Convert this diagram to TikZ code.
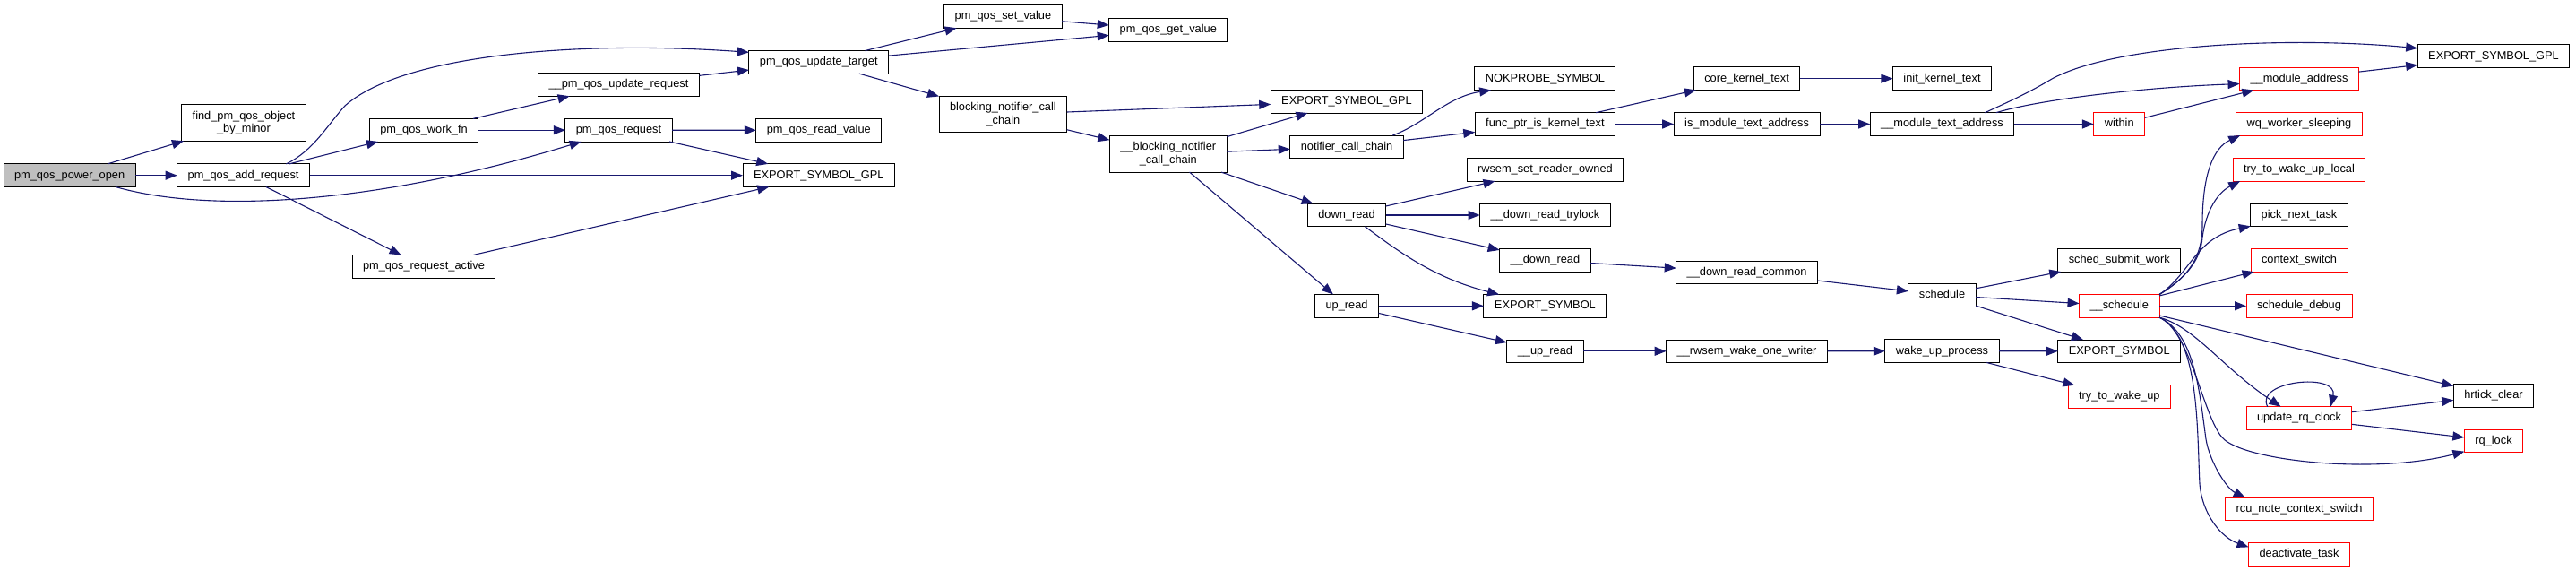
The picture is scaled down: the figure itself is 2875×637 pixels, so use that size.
\documentclass[tikz,border=0pt]{standalone}
\usepackage{fontspec}
\setmainfont{Liberation Sans}
\usetikzlibrary{arrows.meta,calc,positioning}
\definecolor{edgeblue}{HTML}{191970}
\definecolor{linkred}{HTML}{FF0000}
\definecolor{rootgray}{HTML}{BFBFBF}

\begin{document}
\begin{tikzpicture}[x=1pt,y=-1pt,>={Triangle[length=13pt,width=10pt]},
  box/.style={draw=black,line width=1pt,fill=white,inner xsep=12pt,inner ysep=0pt,outer sep=0pt,font=\fontsize{12.8}{14.5}\selectfont},
  fn/.style={box,minimum height=25.6pt,text height=9.4pt,text depth=2.8pt},
  fn2/.style={box,align=center,minimum height=40.5pt},
  redfn/.style={fn,draw=linkred},
  root/.style={fn,fill=rootgray},
  call/.style={->,edgeblue,line width=1.1pt}]
  \useasboundingbox (0,0) rectangle (2875,637);

  \node[root] (pwropen) at (77.6,195.7) {pm\_qos\_power\_open};
  \node[fn2] (findobj) at (272,137) {find\_pm\_qos\_object\\\_by\_minor};
  \node[fn] (addreq) at (271.6,195.7) {pm\_qos\_add\_request};
  \node[fn] (workfn) at (473,145.2) {pm\_qos\_work\_fn};
  \node[fn] (reqactive) at (473,297.2) {pm\_qos\_request\_active};
  \node[fn] (updreq) at (690.5,94.5) {\_\_pm\_qos\_update\_request};
  \node[fn] (qosreq) at (690.5,145.2) {pm\_qos\_request};
  \node[fn] (updtarget) at (913.8,69.3) {pm\_qos\_update\_target};
  \node[fn] (readval) at (913.8,145.3) {pm\_qos\_read\_value};
  \node[fn] (gplA) at (913.8,195.7) {EXPORT\_SYMBOL\_GPL};
  \node[fn] (setval) at (1119.4,18.5) {pm\_qos\_set\_value};
  \node[fn2] (blkcall) at (1119.4,127.7) {blocking\_notifier\_call\\\_chain};
  \node[fn] (getval) at (1303.8,33.3) {pm\_qos\_get\_value};
  \node[fn2] (blkcallx) at (1303.8,171.8) {\_\_blocking\_notifier\\\_call\_chain};
  \node[fn] (gplB) at (1503,113.2) {EXPORT\_SYMBOL\_GPL};
  \node[fn] (notifcall) at (1503,163.8) {notifier\_call\_chain};
  \node[fn] (downrd) at (1503,240) {down\_read};
  \node[fn] (uprd) at (1503,341.3) {up\_read};
  \node[fn] (nokprobe) at (1724.4,87.7) {NOKPROBE\_SYMBOL};
  \node[fn] (funcptr) at (1724.4,138.5) {func\_ptr\_is\_kernel\_text};
  \node[fn] (rwsemset) at (1724.4,189.3) {rwsem\_set\_reader\_owned};
  \node[fn] (trylock) at (1724.4,240) {\_\_down\_read\_trylock};
  \node[fn] (downrdx) at (1724.4,290.5) {\_\_down\_read};
  \node[fn] (symA) at (1724.4,341.3) {EXPORT\_SYMBOL};
  \node[fn] (uprdx) at (1724.4,391.8) {\_\_up\_read};
  \node[fn] (corekt) at (1949.6,87.7) {core\_kernel\_text};
  \node[fn] (ismodta) at (1949.6,138.5) {is\_module\_text\_address};
  \node[fn] (downcommon) at (1949.6,303.8) {\_\_down\_read\_common};
  \node[fn] (wakewriter) at (1949.6,391.8) {\_\_rwsem\_wake\_one\_writer};
  \node[fn] (initkt) at (2167.5,87.7) {init\_kernel\_text};
  \node[fn] (modtaddr) at (2167.5,138.5) {\_\_module\_text\_address};
  \node[fn] (sched) at (2167.5,329.2) {schedule};
  \node[fn] (wakeproc) at (2167.5,391.7) {wake\_up\_process};
  \node[redfn] (within) at (2365.3,138.5) {within};
  \node[fn] (submitwork) at (2365.3,290.3) {sched\_submit\_work};
  \node[redfn] (schedx) at (2365.3,341.3) {\_\_schedule};
  \node[fn] (symB) at (2365.3,391.8) {EXPORT\_SYMBOL};
  \node[redfn] (trywake) at (2365.3,442.5) {try\_to\_wake\_up};
  \node[redfn] (modaddr) at (2566,87.8) {\_\_module\_address};
  \node[redfn] (wqsleep) at (2566,138.3) {wq\_worker\_sleeping};
  \node[redfn] (trywakelocal) at (2566,189.2) {try\_to\_wake\_up\_local};
  \node[fn] (picknext) at (2566,239.8) {pick\_next\_task};
  \node[redfn] (ctxswitch) at (2566,290.3) {context\_switch};
  \node[redfn] (scheddebug) at (2566,341.3) {schedule\_debug};
  \node[redfn] (updclock) at (2566,466.5) {update\_rq\_clock};
  \node[redfn] (rcunote) at (2566,567.8) {rcu\_note\_context\_switch};
  \node[redfn] (deact) at (2566,618.3) {deactivate\_task};
  \node[fn] (gplC) at (2783,62.7) {EXPORT\_SYMBOL\_GPL};
  \node[fn] (hrtick) at (2783,441.2) {hrtick\_clear};
  \node[redfn] (rqlock) at (2783,491.8) {rq\_lock};

  \draw[call] (pwropen) -- (findobj);
  \draw[call] (pwropen) -- (addreq);
  \draw[call] (pwropen.-14) .. controls (240,240) and (430,225) .. (qosreq.197);
  \draw[call] (addreq) -- (workfn);
  \draw[call] (addreq) -- (gplA);
  \draw[call] (addreq) -- (reqactive);
  \draw[call] (addreq.15) .. controls (350,168) and (365,140) .. (385,118)
    .. controls (450,60) and (650,45) .. (updtarget.172);
  \draw[call] (workfn) -- (updreq);
  \draw[call] (workfn) -- (qosreq);
  \draw[call] (updreq) -- (updtarget);
  \draw[call] (qosreq) -- (readval);
  \draw[call] (qosreq) -- (gplA);
  \draw[call] (reqactive) -- (gplA);
  \draw[call] (updtarget) -- (setval);
  \draw[call] (updtarget) -- (getval);
  \draw[call] (updtarget) -- (blkcall);
  \draw[call] (setval) -- (getval);
  \draw[call] (blkcall) -- (gplB);
  \draw[call] (blkcall) -- (blkcallx);
  \draw[call] (blkcallx) -- (gplB);
  \draw[call] (blkcallx) -- (notifcall);
  \draw[call] (blkcallx) -- (downrd);
  \draw[call] (blkcallx) -- (uprd);
  \draw[call] (notifcall.14) .. controls (1590,138) and (1615,108) .. (nokprobe.192);
  \draw[call] (notifcall) -- (funcptr);
  \draw[call] (funcptr) -- (corekt);
  \draw[call] (funcptr) -- (ismodta);
  \draw[call] (corekt) -- (initkt);
  \draw[call] (ismodta) -- (modtaddr);
  \draw[call] (modtaddr.15) .. controls (2250,110) and (2270,100) .. (2290,88)
    .. controls (2360,50) and (2550,40) .. (gplC.174);
  \draw[call] (modtaddr.12) .. controls (2280,110) and (2400,97) .. (modaddr.185);
  \draw[call] (modtaddr) -- (within);
  \draw[call] (within) -- (modaddr);
  \draw[call] (modaddr) -- (gplC);
  \draw[call] (downrd) -- (rwsemset);
  \draw[call] (downrd) -- (trylock);
  \draw[call] (downrd) -- (downrdx);
  \draw[call] (downrd.-32) .. controls (1560,280) and (1600,310) .. (symA.166);
  \draw[call] (uprd) -- (symA);
  \draw[call] (uprd) -- (uprdx);
  \draw[call] (downrdx) -- (downcommon);
  \draw[call] (downcommon) -- (sched);
  \draw[call] (uprdx) -- (wakewriter);
  \draw[call] (wakewriter) -- (wakeproc);
  \draw[call] (sched) -- (submitwork);
  \draw[call] (sched) -- (schedx);
  \draw[call] (sched) -- (symB);
  \draw[call] (wakeproc) -- (symB);
  \draw[call] (wakeproc) -- (trywake);
  \draw[call] (schedx.north east) .. controls (2440,310) and (2458,290) .. (2458,250)
    .. controls (2458,195) and (2470,165) .. (wqsleep.191);
  \draw[call] (schedx.north east) .. controls (2440,310) and (2456,290) .. (2458,265)
    .. controls (2462,235) and (2475,215) .. (trywakelocal.191);
  \draw[call] (schedx.north east) .. controls (2445,305) and (2450,265) .. (picknext.193);
  \draw[call] (schedx) -- (ctxswitch);
  \draw[call] (schedx) -- (scheddebug);
  \draw[call] (schedx) -- (hrtick);
  \draw[call] (schedx.-16) .. controls (2450,365) and (2480,410) .. (updclock.148);
  \draw[call] (schedx.-16) .. controls (2445,370) and (2458,462) .. (2480,488)
    .. controls (2502,514) and (2650,530) .. (rqlock.200);
  \draw[call] (schedx.-16) .. controls (2450,372) and (2455,440) .. (2462,490)
    .. controls (2466,515) and (2485,545) .. (rcunote.168);
  \draw[call] (schedx.-16) .. controls (2455,375) and (2452,480) .. (2455,540)
    .. controls (2458,575) and (2480,600) .. (deact.172);
  \draw[call] (updclock.160) .. controls (2515,425) and (2610,415) .. (updclock.20);
  \draw[call] (updclock) -- (hrtick);
  \draw[call] (updclock) -- (rqlock);
\end{tikzpicture}
\end{document}
